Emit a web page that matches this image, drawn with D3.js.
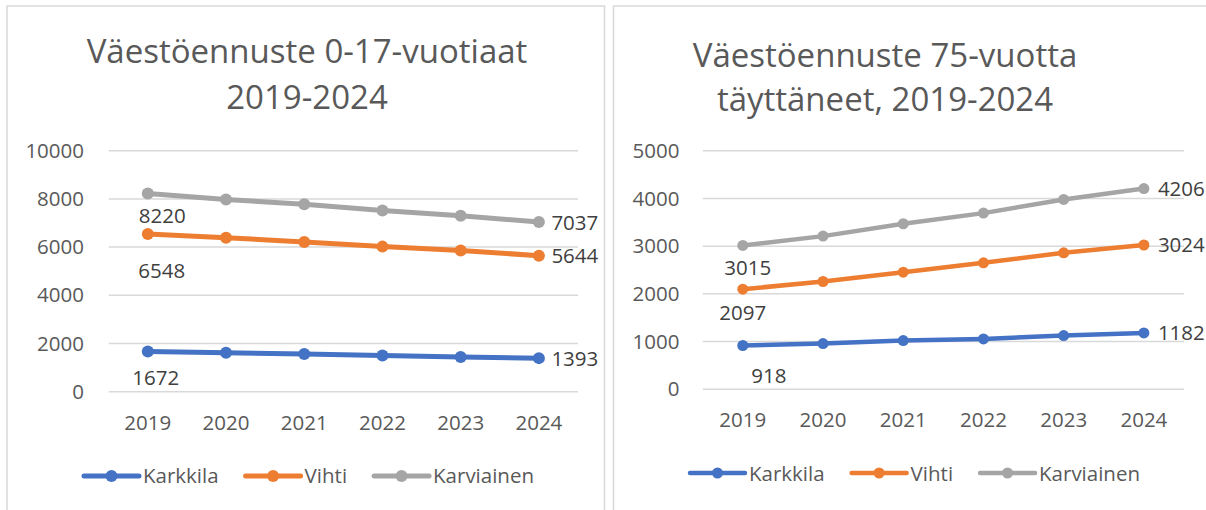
<!DOCTYPE html>
<html>
<head>
<meta charset="utf-8">
<script src="https://cdn.jsdelivr.net/npm/d3@7"></script>
<style>
  html, body { margin: 0; padding: 0; background: #ffffff; }
  svg { display: block; font-family: 'Open Sans', sans-serif; }
</style>
</head>
<body>
<svg id="chart" width="1206" height="510"></svg>
<script>
// categories
const years = ['2019', '2020', '2021', '2022', '2023', '2024'];
const seriesNames = ['Karkkila', 'Vihti', 'Karviainen'];

// 0-17 year olds
const youthKarkkila = [1672, 1617, 1560, 1502, 1444, 1393];
const youthVihti = [6548, 6390, 6210, 6020, 5860, 5644];
const youthKarviainen = [8220, 7975, 7780, 7520, 7300, 7037];
const youthTicks = [0, 2000, 4000, 6000, 8000, 10000];

// 75+ year olds
const elderKarkkila = [918, 958, 1021, 1056, 1126, 1182];
const elderVihti = [2097, 2259, 2455, 2650, 2860, 3024];
const elderKarviainen = [3015, 3210, 3469, 3692, 3979, 4206];
const elderTicks = [0, 1000, 2000, 3000, 4000, 5000];

const colors = ['#4472c4', '#ed7d31', '#a5a5a5'];
const textColor = '#595959';
const labelColor = '#404040';
const gridColor = '#d9d9d9';

const svg = d3.select('#chart');

const charts = [
  {
    title: ['Väestöennuste 0-17-vuotiaat', '2019-2024'],
    series: [youthKarkkila, youthVihti, youthKarviainen],
    ticks: youthTicks,
    panel: {x: 7, y: 6, right: 604.5},
    titleX: 307, titleY: [63, 109],
    xRange: [108.7, 578], yRange: [391.7, 150.7],
    tickRight: 84, xLabelY: 430,
    legendX: 84, legendY: 476, legendTextY: 483,
    lineWidth: 5, radius: 6,
    firstLabel: [[8, 34], [14, 44], [14.5, 29.5]],
    lastLabel: [12.5, 7.5]
  },
  {
    title: ['Väestöennuste 75-vuotta', 'täyttäneet, 2019-2024'],
    series: [elderKarkkila, elderVihti, elderKarviainen],
    ticks: elderTicks,
    panel: {x: 613.5, y: 6, right: 1220},
    titleX: 885, titleY: [67, 111],
    xRange: [702.7, 1184], yRange: [389.3, 150.7],
    tickRight: 679.5, xLabelY: 427,
    legendX: 690, legendY: 473, legendTextY: 481,
    lineWidth: 4.5, radius: 5.5,
    firstLabel: [[26, 38], [0, 31], [5, 30]],
    lastLabel: [14, 7.5]
  }
];

charts.forEach((c) => {
  const g = svg.append('g');

  // panel border
  g.append('path')
    .attr('d', `M${c.panel.x},520 V${c.panel.y} H${c.panel.right} V520`)
    .attr('fill', 'none')
    .attr('stroke', gridColor)
    .attr('stroke-width', 1.5);

  // title
  c.title.forEach((t, i) => {
    g.append('text')
      .attr('x', c.titleX)
      .attr('y', c.titleY[i])
      .attr('text-anchor', 'middle')
      .attr('fill', textColor)
      .style('font-size', '33px')
      .text(t);
  });

  const x = d3.scalePoint().domain(years).range(c.xRange).padding(0.5);
  const y = d3.scaleLinear().domain([0, d3.max(c.ticks)]).range(c.yRange);

  // gridlines + y labels
  g.selectAll('.grid')
    .data(c.ticks)
    .enter()
    .append('line')
    .attr('x1', c.xRange[0])
    .attr('x2', c.xRange[1])
    .attr('y1', (d) => y(d))
    .attr('y2', (d) => y(d))
    .attr('stroke', gridColor)
    .attr('stroke-width', 1.5);

  g.selectAll('.ylab')
    .data(c.ticks)
    .enter()
    .append('text')
    .attr('x', c.tickRight)
    .attr('y', (d) => y(d))
    .attr('dy', '0.35em')
    .attr('text-anchor', 'end')
    .attr('fill', textColor)
    .style('font-size', '20.5px')
    .text((d) => d);

  // x labels
  g.selectAll('.xlab')
    .data(years)
    .enter()
    .append('text')
    .attr('x', (d) => x(d))
    .attr('y', c.xLabelY)
    .attr('text-anchor', 'middle')
    .attr('fill', textColor)
    .style('font-size', '20.5px')
    .text((d) => d);

  const line = d3.line()
    .x((d, i) => x(years[i]))
    .y((d) => y(d));

  c.series.forEach((values, s) => {
    g.append('path')
      .datum(values)
      .attr('d', line)
      .attr('fill', 'none')
      .attr('stroke', colors[s])
      .attr('stroke-width', c.lineWidth)
      .attr('stroke-linejoin', 'round')
      .attr('stroke-linecap', 'round');

    g.selectAll(null)
      .data(values)
      .enter()
      .append('circle')
      .attr('cx', (d, i) => x(years[i]))
      .attr('cy', (d) => y(d))
      .attr('r', c.radius)
      .attr('fill', colors[s]);

    // first value below, last value to the right
    const first = values[0];
    const last = values[values.length - 1];
    g.append('text')
      .attr('x', x(years[0]) + c.firstLabel[s][0])
      .attr('y', y(first) + c.firstLabel[s][1])
      .attr('text-anchor', 'middle')
      .attr('fill', labelColor)
      .style('font-size', '20.5px')
      .text(first);
    g.append('text')
      .attr('x', x(years[years.length - 1]) + c.lastLabel[0])
      .attr('y', y(last) + c.lastLabel[1])
      .attr('fill', labelColor)
      .style('font-size', '20.5px')
      .text(last);
  });

  // legend
  let lx = c.legendX;
  seriesNames.forEach((name, s) => {
    const item = g.append('g');
    item.append('line')
      .attr('x1', lx).attr('x2', lx + 55)
      .attr('y1', c.legendY).attr('y2', c.legendY)
      .attr('stroke', colors[s])
      .attr('stroke-width', c.lineWidth)
      .attr('stroke-linecap', 'round');
    item.append('circle')
      .attr('cx', lx + 27.5)
      .attr('cy', c.legendY)
      .attr('r', c.radius)
      .attr('fill', colors[s]);
    const t = item.append('text')
      .attr('x', lx + 59)
      .attr('y', c.legendTextY)
      .attr('fill', textColor)
      .style('font-size', '20.5px')
      .text(name);
    lx += 59 + t.node().getComputedTextLength() + 27;
  });
});
</script>
</body>
</html>
